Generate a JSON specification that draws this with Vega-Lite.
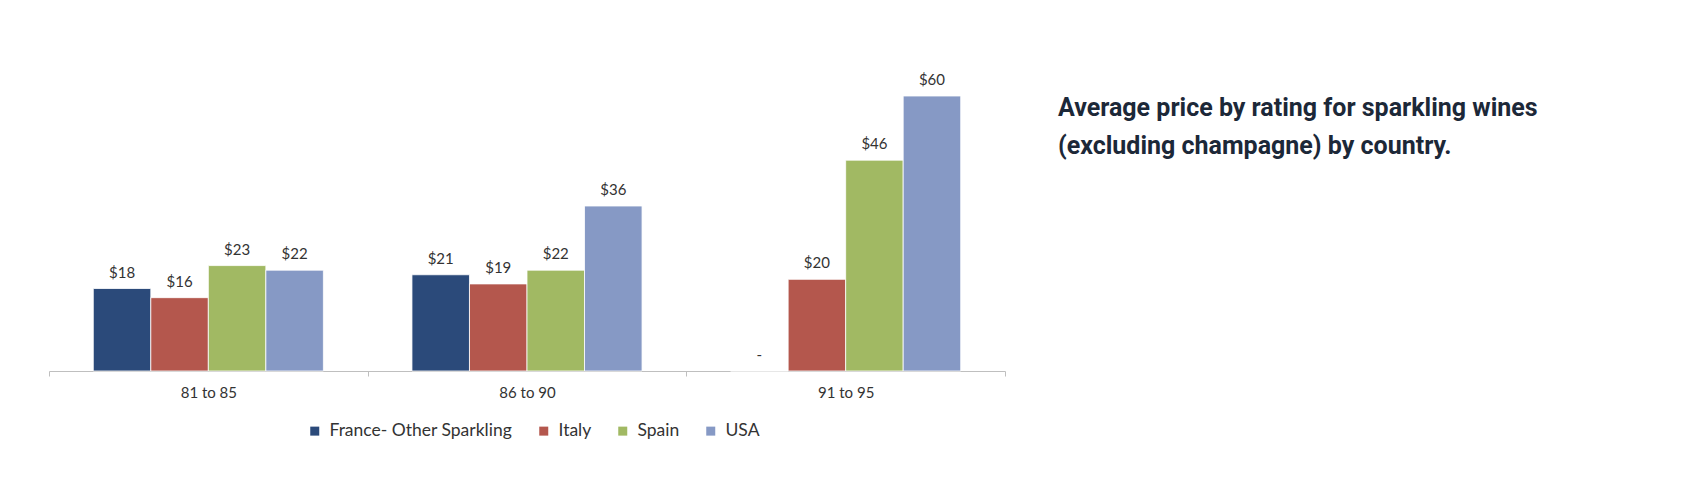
{
  "$schema": "https://vega.github.io/schema/vega-lite/v6.json",
  "width": 956,
  "height": 275,
  "autosize": {"type": "none"},
  "padding": {"left": 49, "top": 96, "right": 681, "bottom": 129},
  "background": "white",
  "config": {"view": {"stroke": null}},
  "title": {
    "text": ["Average price by rating for sparkling wines", "(excluding champagne) by country."],
    "anchor": "start",
    "frame": "group",
    "orient": "top",
    "dx": 1009,
    "dy": 90,
    "font": "Roboto",
    "fontSize": 25,
    "fontWeight": "bold",
    "color": "#1c2838",
    "lineHeight": 38,
    "limit": 700
  },
  "data": {
    "values": [
      {"rating": "81 to 85", "country": "France- Other Sparkling", "price": 18, "label": "$18"},
      {"rating": "81 to 85", "country": "Italy", "price": 16, "label": "$16"},
      {"rating": "81 to 85", "country": "Spain", "price": 23, "label": "$23"},
      {"rating": "81 to 85", "country": "USA", "price": 22, "label": "$22"},
      {"rating": "86 to 90", "country": "France- Other Sparkling", "price": 21, "label": "$21"},
      {"rating": "86 to 90", "country": "Italy", "price": 19, "label": "$19"},
      {"rating": "86 to 90", "country": "Spain", "price": 22, "label": "$22"},
      {"rating": "86 to 90", "country": "USA", "price": 36, "label": "$36"},
      {"rating": "91 to 95", "country": "France- Other Sparkling", "price": 0, "label": "-"},
      {"rating": "91 to 95", "country": "Italy", "price": 20, "label": "$20"},
      {"rating": "91 to 95", "country": "Spain", "price": 46, "label": "$46"},
      {"rating": "91 to 95", "country": "USA", "price": 60, "label": "$60"}
    ]
  },
  "encoding": {
    "x": {
      "field": "rating",
      "type": "nominal",
      "scale": {"paddingInner": 0, "paddingOuter": 0},
      "axis": {
        "title": null,
        "labelAngle": 0,
        "tickBand": "extent",
        "domainColor": "#bfbfbf",
        "tickColor": "#bfbfbf",
        "tickSize": 5,
        "labelFont": "Lato",
        "labelFontSize": 15,
        "labelColor": "#333333",
        "labelPadding": 9
      }
    },
    "xOffset": {
      "field": "country",
      "type": "nominal",
      "scale": {"paddingInner": 0, "paddingOuter": 0.77}
    },
    "y": {
      "field": "price",
      "type": "quantitative",
      "scale": {"domain": [0, 60], "nice": false},
      "axis": null
    }
  },
  "layer": [
    {
      "mark": {"type": "bar", "stroke": "white", "strokeWidth": 0.8},
      "encoding": {
        "color": {
          "field": "country",
          "type": "nominal",
          "scale": {
            "domain": ["France- Other Sparkling", "Italy", "Spain", "USA"],
            "range": ["#2b4a7a", "#b4574d", "#a1b963", "#8699c5"]
          },
          "legend": {
            "title": null,
            "orient": "none",
            "direction": "horizontal",
            "legendX": 257,
            "legendY": 326,
            "symbolType": "square",
            "symbolSize": 81,
            "symbolStrokeWidth": 0,
            "labelFont": "Lato",
            "labelFontSize": 17.5,
            "labelColor": "#333333",
            "labelOffset": 6,
            "labelLimit": 400,
            "columnPadding": 22
          }
        }
      }
    },
    {
      "mark": {
        "type": "text",
        "baseline": "bottom",
        "dy": -8,
        "font": "Lato",
        "fontSize": 15,
        "color": "#333333"
      },
      "encoding": {
        "text": {"field": "label"}
      }
    }
  ]
}
